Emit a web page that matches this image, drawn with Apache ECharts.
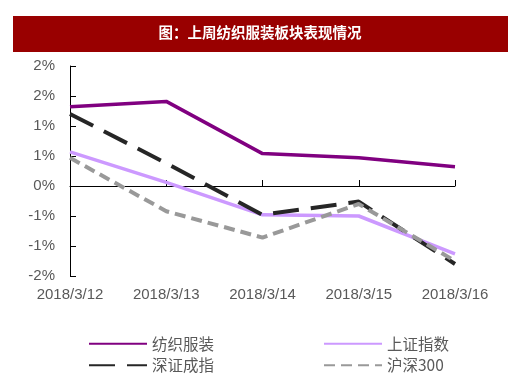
<!DOCTYPE html>
<html><head><meta charset="utf-8">
<script src="https://cdn.jsdelivr.net/npm/echarts@6/dist/echarts.min.js"></script>
<style>html,body{margin:0;padding:0;background:#fff}#c{width:520px;height:383px}</style>
</head><body><div id="c"></div>
<script>
const categories = ['2018/3/12','2018/3/13','2018/3/14','2018/3/15','2018/3/16'];
const textile = [1.32, 1.41, 0.54, 0.47, 0.32];
const shIndex = [0.57, 0.06, -0.48, -0.50, -1.13];
const szIndex = [1.20, 0.38, -0.48, -0.26, -1.30];
const hs300 = [0.47, -0.42, -0.86, -0.30, -1.25];
const yTickLabels = ['-2%','-1%','-1%','0%','1%','1%','2%','2%'];
const yMin = -1.5, yMax = 2.0, yStep = 0.5;
const titleText = '图：上周纺织服装板块表现情况';

const font = '"Liberation Sans", Arial, "Noto Sans CJK SC", sans-serif';
const chart = echarts.init(document.getElementById('c'));
chart.setOption({
  animation: false,
  backgroundColor: '#fff',
  graphic: [
    {type:'rect', shape:{x:13, y:16, width:495, height:36}, style:{fill:'#990000'}},
    {type:'text', left:'center', top:25, style:{text:titleText, fill:'#fff', font:'bold 14.5px "Noto Sans CJK SC", sans-serif'}}
  ],
  grid: {left:70, right:65, top:66, bottom:107, outerBoundsMode:'none', containLabel:false},
  legend: [
    {orient:'vertical', left:83, top:331, itemWidth:58, itemHeight:6, itemGap:6,
     itemStyle:{opacity:0},
     data:['纺织服装','深证成指'], textStyle:{color:'#595959', fontSize:15.5, fontFamily:'"Noto Sans CJK SC", sans-serif'}},
    {orient:'vertical', left:318, top:331, itemWidth:58, itemHeight:6, itemGap:6,
     itemStyle:{opacity:0},
     data:['上证指数','沪深300'], textStyle:{color:'#595959', fontSize:15.5, fontFamily:'"Noto Sans CJK SC", sans-serif'}}
  ],
  xAxis: {
    type:'category', data:categories, boundaryGap:false,
    axisLine:{onZero:true, lineStyle:{color:'#000', width:1}},
    axisTick:{inside:true, length:6, lineStyle:{color:'#000'}},
    axisLabel:{margin:11, color:'#595959', fontSize:15, fontFamily:font}
  },
  yAxis: {
    type:'value', min:yMin, max:yMax, interval:yStep,
    splitLine:{show:false},
    axisLine:{show:true, lineStyle:{color:'#000', width:1}},
    axisTick:{show:true, inside:true, length:6, lineStyle:{color:'#000'}},
    axisLabel:{color:'#595959', fontSize:15, fontFamily:font, margin:15,
      formatter:function(v){ return yTickLabels[Math.round((v - yMin)/yStep)]; }}
  },
  series: [
    {name:'纺织服装', type:'line', data:textile, symbol:'none', lineStyle:{color:'#800080', width:3.5}, itemStyle:{color:'#800080'}},
    {name:'上证指数', type:'line', data:shIndex, symbol:'none', lineStyle:{color:'#CC99FF', width:3.5}, itemStyle:{color:'#CC99FF'}},
    {name:'深证成指', type:'line', data:szIndex, symbol:'none', lineStyle:{color:'#262626', width:4, type:[26,12]}, itemStyle:{color:'#262626'}},
    {name:'沪深300', type:'line', data:hs300, symbol:'none', lineStyle:{color:'#999999', width:4, type:[11,6]}, itemStyle:{color:'#999999'}}
  ]
});
</script></body></html>
